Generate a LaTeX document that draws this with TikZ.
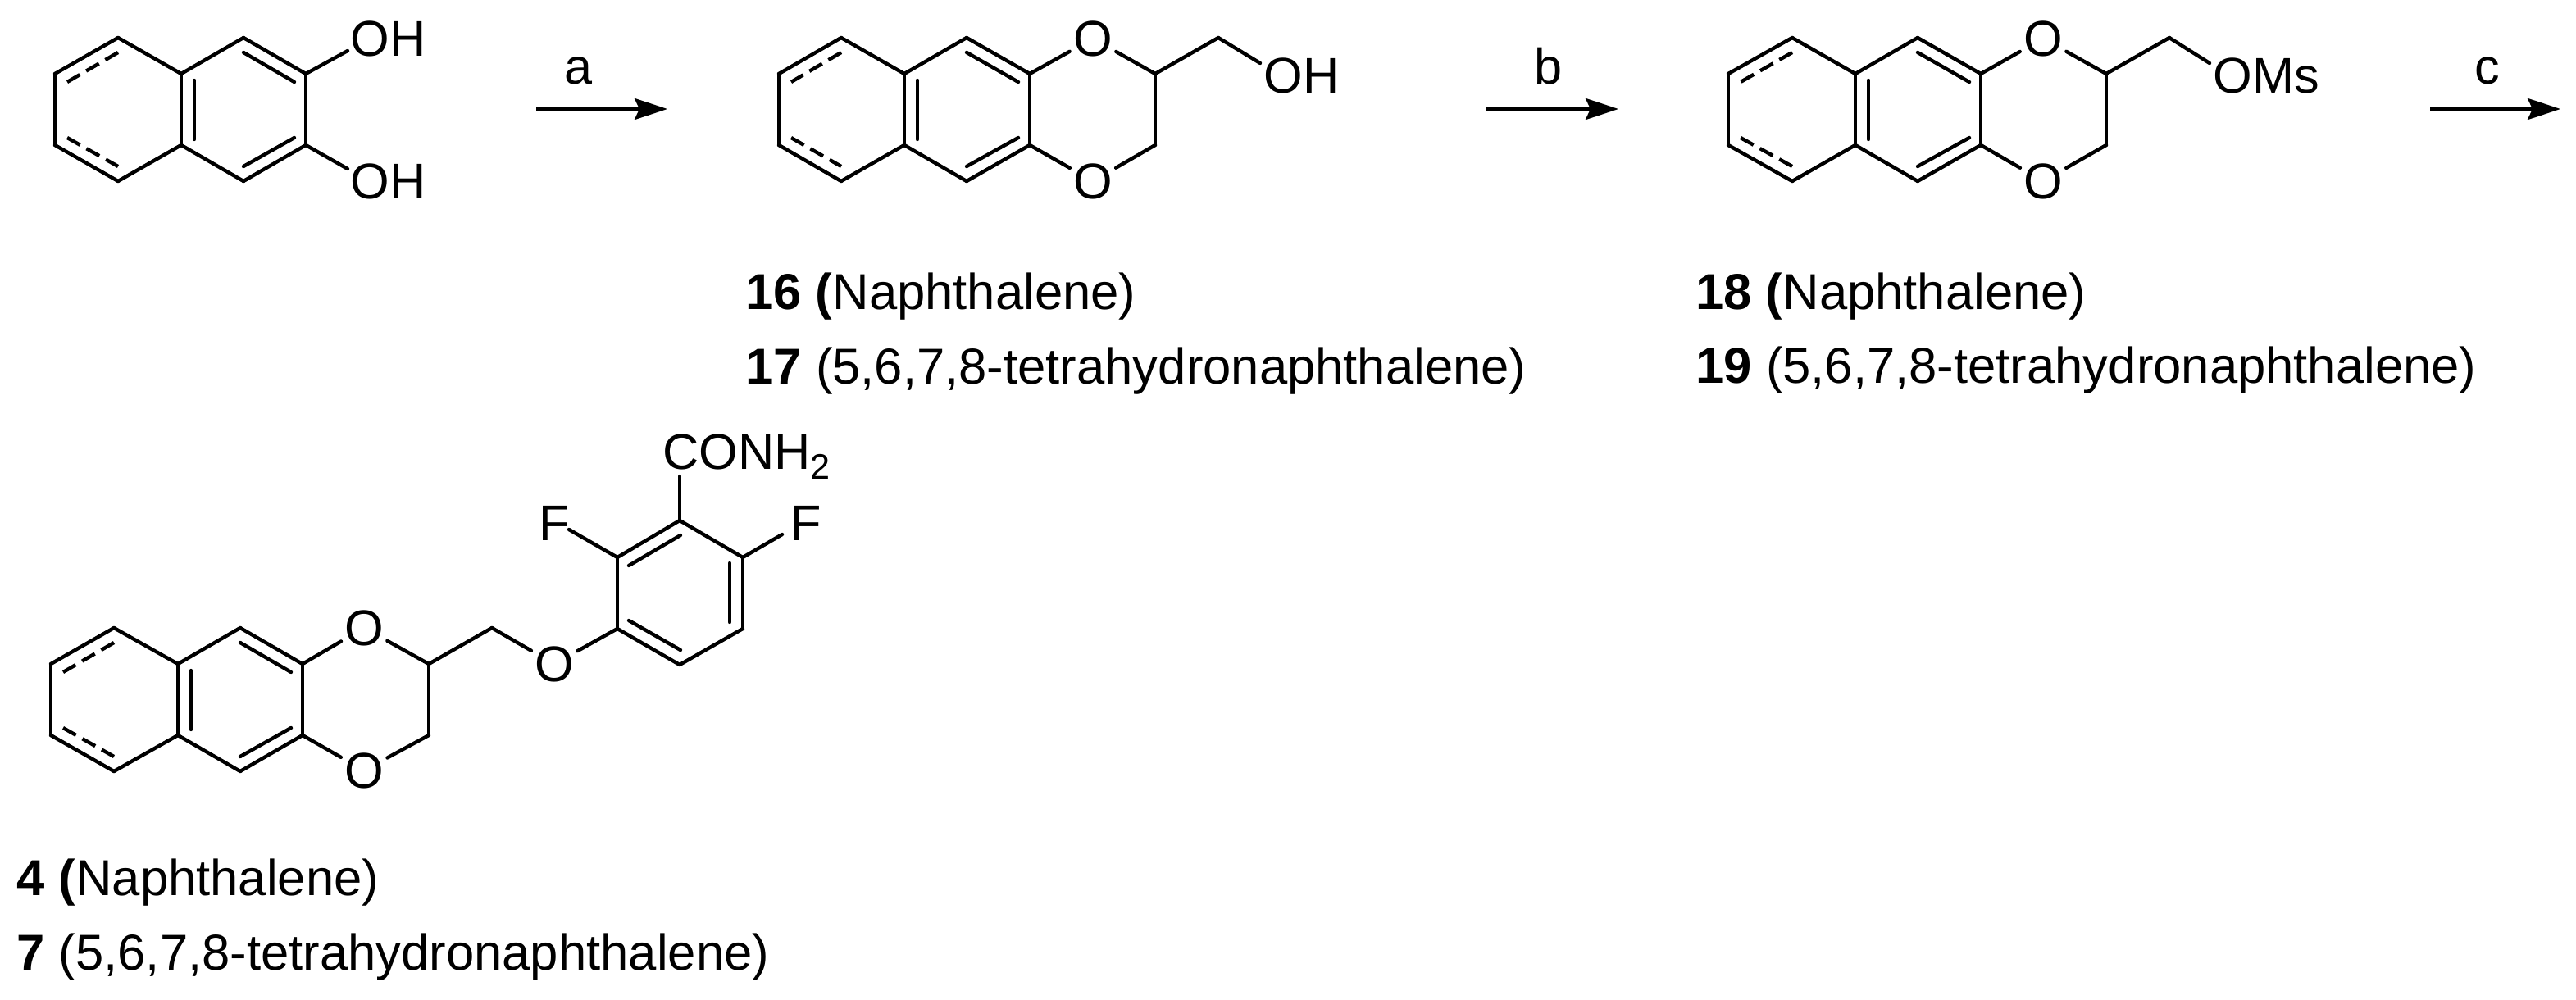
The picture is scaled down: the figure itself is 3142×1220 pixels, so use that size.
\documentclass[tikz,border=0pt]{standalone}
\usepackage{fontspec}
\setmainfont{Liberation Sans}
\usetikzlibrary{arrows.meta}
\tikzset{
  bond/.style={line width=2.2pt,line cap=round,line join=round},
  dbond/.style={line width=2.2pt,line cap=butt,dash pattern=on 9pt off 4.5pt on 9pt off 4.5pt on 9pt},
  rxn/.style={line width=2.2pt,-{Stealth[length=20pt,width=13pt,inset=3pt]}},
  txt/.style={anchor=base west,inner sep=0pt,font=\fontsize{30.6}{36}\selectfont},
  captxt/.style={anchor=base west,inner sep=0pt,font=\fontsize{30.8}{36}\selectfont},
  lab/.style={anchor=base,inner sep=0pt,font=\fontsize{30.6}{36}\selectfont},
  oatom/.style={circle,inner sep=0pt,minimum size=32pt,font=\fontsize{30.6}{36}\selectfont},
}
% prefix, x1..x5, top y
\newcommand{\naphcore}[7]{%
  \coordinate (#1a) at (#2,#7+44);
  \coordinate (#1b) at (#3,#7);
  \coordinate (#1c) at (#4,#7+44);
  \coordinate (#1d) at (#4,#7+131);
  \coordinate (#1e) at (#3,#7+175);
  \coordinate (#1f) at (#2,#7+131);
  \coordinate (#1g) at (#5,#7);
  \coordinate (#1h) at (#6,#7+44);
  \coordinate (#1i) at (#6,#7+131);
  \coordinate (#1j) at (#5,#7+175);
  \draw[bond] (#1a) -- (#1b);
  \draw[bond] (#1b) -- (#1c);
  \draw[bond] (#1c) -- (#1d);
  \draw[bond] (#1d) -- (#1e);
  \draw[bond] (#1e) -- (#1f);
  \draw[bond] (#1f) -- (#1a);
  \draw[bond] (#1c) -- (#1g);
  \draw[bond] (#1g) -- (#1h);
  \draw[bond] (#1h) -- (#1i);
  \draw[bond] (#1i) -- (#1j);
  \draw[bond] (#1j) -- (#1d);
  % inner lines
  \coordinate (#1m1) at (#4+16,#7+52);
  \coordinate (#1m2) at (#4+16,#7+124);
  \draw[bond] (#1m1) -- (#1m2);
  \coordinate (#1n1) at (#5,#7+18);
  \coordinate (#1n2) at (#6-14,#7+54);
  \draw[bond] (#1n1) -- (#1n2);
  \coordinate (#1p1) at (#5,#7+157);
  \coordinate (#1p2) at (#6-14,#7+122);
  \draw[bond] (#1p1) -- (#1p2);
  \coordinate (#1q1) at (#3,#7+18);
  \coordinate (#1q2) at (#2+15,#7+54);
  \draw[dbond] (#1q1) -- (#1q2);
  \coordinate (#1r1) at (#2+15,#7+122);
  \coordinate (#1r2) at (#3,#7+157);
  \draw[dbond] (#1r1) -- (#1r2);
}
\begin{document}
\begin{tikzpicture}[x=0.5pt,y=-0.5pt]
\useasboundingbox[fill=white] (0,0) rectangle (3142,1220);

% ---------- diol
\naphcore{A}{67}{144}{221}{297}{373}{46}
\node[txt] (Aoh1) at (427,69) {OH};
\node[txt] (Aoh2) at (427,242) {OH};
\coordinate (Ae1) at (424,62);
\coordinate (Ae2) at (424,206);
\draw[bond] (Ah) -- (Ae1);
\draw[bond] (Ai) -- (Ae2);

% arrow a
\coordinate (a1) at (654,133);
\coordinate (a2) at (814,133);
\draw[rxn] (a1) -- (a2);
\node[lab] (la) at (706,103) {a};

% ---------- 16/17
\naphcore{B}{950}{1026}{1103}{1179}{1256}{46}
\node[oatom] (BO1) at (1333,47) {O};
\node[oatom] (BO2) at (1333,221) {O};
\coordinate (Bs) at (1409,90);
\coordinate (Bt) at (1409,177);
\coordinate (Bu) at (1486,46);
\coordinate (Bv) at (1537,77);
\draw[bond] (Bh) -- (BO1);
\draw[bond] (Bi) -- (BO2);
\draw[bond] (BO1) -- (Bs);
\draw[bond] (BO2) -- (Bt);
\draw[bond] (Bs) -- (Bt);
\draw[bond] (Bs) -- (Bu);
\draw[bond] (Bu) -- (Bv);
\node[txt] (Boh) at (1541,113) {OH};
\node[captxt] (t16) at (909,377) {\textbf{16 (}Naphthalene)};
\node[captxt] (t17) at (909,468) {\textbf{17} (5,6,7,8-tetrahydronaphthalene)};

% arrow b
\coordinate (b1) at (1813,133);
\coordinate (b2) at (1974,133);
\draw[rxn] (b1) -- (b2);
\node[lab] (lb) at (1888,103) {b};

% ---------- 18/19
\naphcore{C}{2108}{2186}{2263}{2339}{2416}{46}
\node[oatom] (CO1) at (2492,47) {O};
\node[oatom] (CO2) at (2492,221) {O};
\coordinate (Cs) at (2569,90);
\coordinate (Ct) at (2569,177);
\coordinate (Cu) at (2646,46);
\coordinate (Cv) at (2695,77);
\draw[bond] (Ch) -- (CO1);
\draw[bond] (Ci) -- (CO2);
\draw[bond] (CO1) -- (Cs);
\draw[bond] (CO2) -- (Ct);
\draw[bond] (Cs) -- (Ct);
\draw[bond] (Cs) -- (Cu);
\draw[bond] (Cu) -- (Cv);
\node[txt] (Coms) at (2699,113) {OMs};
\node[captxt] (t18) at (2068,377) {\textbf{18 (}Naphthalene)};
\node[captxt] (t19) at (2068,467) {\textbf{19} (5,6,7,8-tetrahydronaphthalene)};

% arrow c
\coordinate (c1) at (2964,133);
\coordinate (c2) at (3123,133);
\draw[rxn] (c1) -- (c2);
\node[lab] (lc) at (3034,103) {c};

% ---------- 4/7
\naphcore{D}{62}{139}{217}{293}{369}{766}
\node[oatom] (DO1) at (444,766) {O};
\node[oatom] (DO2) at (444,940) {O};
\node[oatom] (DO3) at (676,810) {O};
\coordinate (Ds) at (523,810);
\coordinate (Dt) at (523,897);
\coordinate (Du) at (600,766);
\draw[bond] (Dh) -- (DO1);
\draw[bond] (Di) -- (DO2);
\draw[bond] (DO1) -- (Ds);
\draw[bond] (DO2) -- (Dt);
\draw[bond] (Ds) -- (Dt);
\draw[bond] (Ds) -- (Du);
\draw[bond] (Du) -- (DO3);
% aryl ring
\coordinate (R1) at (829,635);
\coordinate (R2) at (906,680);
\coordinate (R3) at (906,767);
\coordinate (R4) at (829,811);
\coordinate (R5) at (753,767);
\coordinate (R6) at (753,680);
\draw[bond] (R1) -- (R2);
\draw[bond] (R2) -- (R3);
\draw[bond] (R3) -- (R4);
\draw[bond] (R4) -- (R5);
\draw[bond] (R5) -- (R6);
\draw[bond] (R6) -- (R1);
\draw[bond] (DO3) -- (R5);
\coordinate (Ri1) at (830,653);
\coordinate (Ri2) at (767,690);
\coordinate (Ri3) at (890,687);
\coordinate (Ri4) at (890,759);
\coordinate (Ri5) at (767,757);
\coordinate (Ri6) at (830,793);
\draw[bond] (Ri1) -- (Ri2);
\draw[bond] (Ri3) -- (Ri4);
\draw[bond] (Ri5) -- (Ri6);
\node[txt] (F1) at (657,659) {F};
\node[txt] (F2) at (964,659) {F};
\node[txt] (con) at (808,572) {CONH\raisebox{-6pt}{\fontsize{21.6}{26}\selectfont 2}};
\coordinate (Re1) at (694,646);
\coordinate (Re2) at (954,652);
\coordinate (Re3) at (829,581);
\draw[bond] (R6) -- (Re1);
\draw[bond] (R2) -- (Re2);
\draw[bond] (R1) -- (Re3);
\node[captxt] (t4) at (20,1092) {\textbf{4 (}Naphthalene)};
\node[captxt] (t7) at (20,1183) {\textbf{7} (5,6,7,8-tetrahydronaphthalene)};
\end{tikzpicture}
\end{document}
